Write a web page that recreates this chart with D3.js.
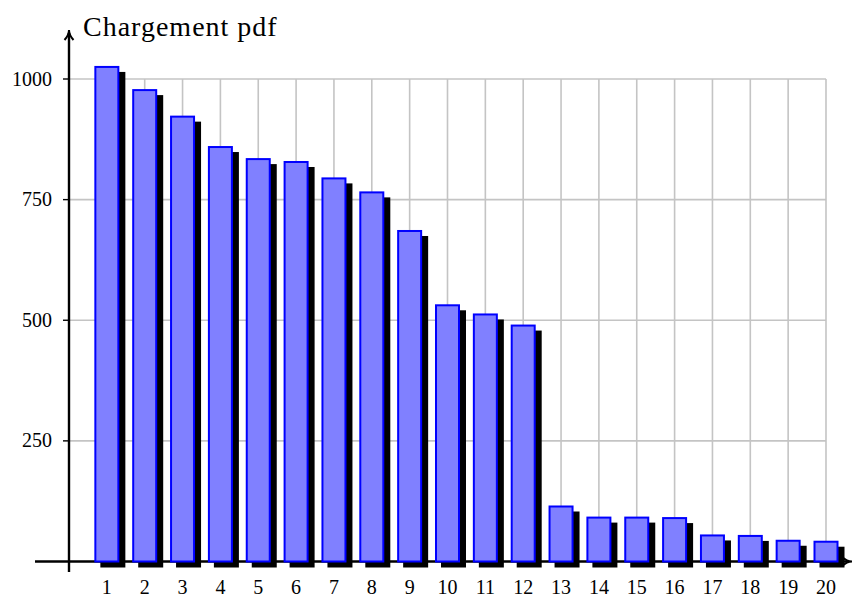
<!DOCTYPE html>
<meta charset="utf-8">
<script src="https://d3js.org/d3.v7.min.js"></script>
<style>
  body { margin: 0; background: #fff; }
  text { font-family: "Liberation Serif", serif; fill: #000; }
</style>
<div id="chart"></div>
<script>
// data
var categories = [1, 2, 3, 4, 5, 6, 7, 8, 9, 10, 11, 12, 13, 14, 15, 16, 17, 18, 19, 20];
var values = [1025, 977, 922, 859, 834, 828, 794, 765, 685, 531, 512, 489, 114, 91, 91, 90, 54, 53, 43, 41];
var yTicks = [250, 500, 750, 1000];
var title = "Chargement pdf";

var width = 854, height = 597;

var svg = d3.select("#chart").append("svg")
    .attr("width", width)
    .attr("height", height);

var x = d3.scaleLinear().domain([0, 20]).range([69, 826]);
var y = d3.scaleLinear().domain([0, 1000]).range([561.5, 79]);

var barW = 23, shadow = 6;

// grid
var grid = svg.append("g").attr("stroke", "#c4c4c4").attr("stroke-width", 1.6);
grid.selectAll("line.h").data(yTicks).enter().append("line")
    .attr("x1", x(0)).attr("x2", x(20))
    .attr("y1", function (d) { return y(d); })
    .attr("y2", function (d) { return y(d); });
grid.selectAll("line.v").data(categories).enter().append("line")
    .attr("x1", function (d) { return x(d); })
    .attr("x2", function (d) { return x(d); })
    .attr("y1", y(0)).attr("y2", y(1000));

// axes
var axes = svg.append("g").attr("stroke", "#000").attr("stroke-width", 2.4);
axes.append("line").attr("x1", 35).attr("x2", 849).attr("y1", y(0)).attr("y2", y(0));
axes.append("line").attr("x1", x(0)).attr("x2", x(0)).attr("y1", 572).attr("y2", 33);
axes.append("path")
    .attr("d", "M" + (x(0) - 4.5) + ",40 Q" + x(0) + ",35 " + x(0) + ",30 Q" + x(0) + ",35 " + (x(0) + 4.5) + ",40")
    .attr("fill", "none").attr("stroke-width", 2);
axes.append("path")
    .attr("d", "M842," + (y(0) - 4.5) + " Q847," + y(0) + " 852," + y(0) + " Q847," + y(0) + " 842," + (y(0) + 4.5))
    .attr("fill", "none").attr("stroke-width", 2);

// y ticks and labels
axes.selectAll("line.t").data(yTicks).enter().append("line")
    .attr("x1", x(0) - 6).attr("x2", x(0))
    .attr("y1", function (d) { return y(d); })
    .attr("y2", function (d) { return y(d); })
    .attr("stroke-width", 1.4);
svg.selectAll("text.yl").data(yTicks).enter().append("text")
    .attr("x", 52)
    .attr("y", function (d) { return y(d) + 6.5; })
    .attr("text-anchor", "end")
    .style("font-size", "20px")
    .text(function (d) { return d; });

// x labels
svg.selectAll("text.xl").data(categories).enter().append("text")
    .attr("x", function (d) { return x(d); })
    .attr("y", 594)
    .attr("text-anchor", "middle")
    .style("font-size", "20px")
    .text(function (d) { return d; });

// shadows then bars
svg.selectAll("rect.sh").data(values).enter().append("rect")
    .attr("x", function (d, i) { return x(categories[i]) - barW / 2 - 1 + shadow; })
    .attr("y", function (d) { return y(d) - 1 + shadow; })
    .attr("width", barW + 2)
    .attr("height", function (d) { return y(0) - y(d) + 1; })
    .attr("fill", "#000");

svg.selectAll("rect.bar").data(values).enter().append("rect")
    .attr("x", function (d, i) { return x(categories[i]) - barW / 2; })
    .attr("y", function (d) { return y(d); })
    .attr("width", barW)
    .attr("height", function (d) { return y(0) - y(d); })
    .attr("fill", "#8080ff")
    .attr("stroke", "#0000ff")
    .attr("stroke-width", 2);

// title
svg.append("text")
    .attr("x", 83)
    .attr("y", 36)
    .style("font-size", "28px")
    .style("letter-spacing", "1px")
    .text(title);
</script>
